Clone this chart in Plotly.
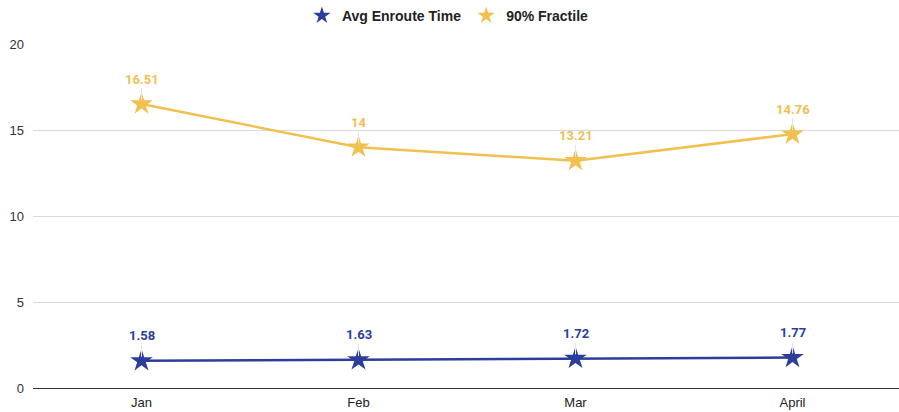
import plotly.graph_objects as go

months = ["Jan", "Feb", "Mar", "April"]
avg_enroute = [1.58, 1.63, 1.72, 1.77]
fractile_90 = [16.51, 14, 13.21, 14.76]
y_ticks = [0, 5, 10, 15, 20]

BLUE = "#2c3d9c"
YELLOW = "#f1c04f"

fig = go.Figure()
for name, vals, col in [("Avg Enroute Time", avg_enroute, BLUE), ("90% Fractile", fractile_90, YELLOW)]:
    fig.add_trace(go.Scatter(x=months, y=vals, mode="lines+markers", name=name,
                             line=dict(color=col, width=2.5),
                             marker=dict(symbol="star", size=17, color=col, line=dict(width=0)),
                             showlegend=False, hoverinfo="x+y"))
    fig.add_trace(go.Scatter(x=[None], y=[None], mode="markers", name=f"<b>{name}</b>",
                             marker=dict(symbol="star", size=13, color=col, line=dict(width=0)),
                             showlegend=True))
    for m, v in zip(months, vals):
        fig.add_annotation(x=m, y=v, text=f"<b>{v:g}</b>", showarrow=True,
                           arrowhead=0, arrowwidth=1, arrowcolor="#e6e6e6",
                           ax=0, ay=-25, standoff=4,
                           font=dict(family="Roboto, Arial, sans-serif", size=13, color=col))

fig.update_layout(
    width=901, height=412,
    margin=dict(l=33, r=0, t=44, b=24, autoexpand=False),
    paper_bgcolor="white", plot_bgcolor="white",
    font=dict(family="Arial, Liberation Sans, sans-serif", size=13, color="#222222"),
    legend=dict(orientation="h", x=0.478, xanchor="center", y=1.0, yanchor="top",
                yref="container", font=dict(size=14, color="#222222", family="Arial, Liberation Sans, sans-serif"),
                itemwidth=30, traceorder="normal"),
    showlegend=True,
)
fig.update_xaxes(showgrid=False, showline=True, linecolor="#333333", linewidth=1,
                 range=[-0.5, 3.5], ticks="", tickfont=dict(size=13, color="#222222"),
                 ticklabelstandoff=2)
fig.update_yaxes(range=[0, 20], tickvals=y_ticks, showgrid=True, gridcolor="#d9d9d9",
                 zeroline=False, ticks="", tickfont=dict(size=13, color="#333333"),
                 ticklabelstandoff=8)

fig.write_html("out.html", config={"displayModeBar": False},
               post_script="document.body.style.margin='0';document.body.style.overflow='hidden';")
